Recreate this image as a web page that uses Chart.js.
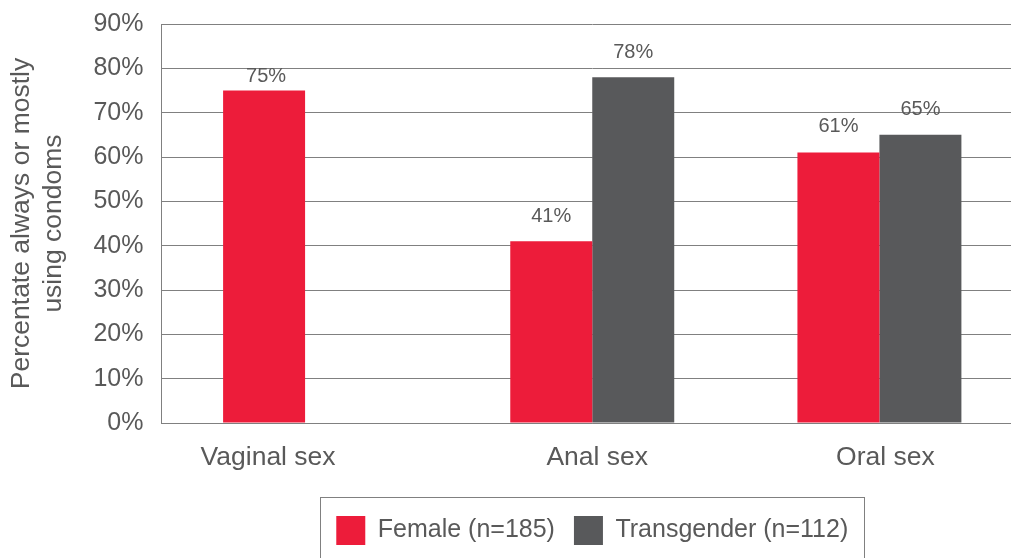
<!DOCTYPE html>
<html><head><meta charset="utf-8">
<script src="https://cdn.jsdelivr.net/npm/chart.js@4/dist/chart.umd.min.js"></script>
<style>
html,body{margin:0;padding:0;overflow:hidden;background:#fff;width:1011px;height:558px}
#wrap{position:absolute;left:0;top:0;width:1023px;height:558px}
</style></head><body>
<div id="wrap"><canvas id="c" width="1023" height="558"></canvas></div>
<script>
// ---- data ----
const categories = ['Vaginal sex', 'Anal sex', 'Oral sex'];
const femaleValues = [75, 41, 61];
const transValues = [null, 78, 65];
const seriesLabels = ['Female (n=185)', 'Transgender (n=112)'];
const yTickValues = [0, 10, 20, 30, 40, 50, 60, 70, 80, 90];
const yTitle = ['Percentate always or mostly', 'using condoms'];

// ---- style ----
const TEXT = '#595959';
const GRID = '#808080';
const FONT = '"Liberation Sans", Arial, sans-serif';
const labelShift = [-37, 5, 6];
const valueLift = [[14, 25, 26], [25, 25, 25]];

const valueLabels = {
  id: 'valueLabels',
  afterDatasetsDraw(chart) {
    const ctx = chart.ctx;
    ctx.save();
    ctx.font = '20px ' + FONT;
    ctx.fillStyle = TEXT;
    ctx.textAlign = 'center';
    ctx.textBaseline = 'middle';
    chart.data.datasets.forEach((ds, di) => {
      const meta = chart.getDatasetMeta(di);
      meta.data.forEach((el, i) => {
        const v = ds.data[i];
        if (v === null || v === undefined) return;
        ctx.fillText(v + '%', el.x + (di === 0 && i === 0 ? 2 : 0), el.y - valueLift[di][i]);
      });
    });
    ctx.restore();
  }
};

const xLabels = {
  id: 'xLabels',
  afterDraw(chart) {
    const ctx = chart.ctx;
    const xs = chart.scales.x;
    ctx.save();
    ctx.font = '26.5px ' + FONT;
    ctx.fillStyle = TEXT;
    ctx.textAlign = 'center';
    ctx.textBaseline = 'middle';
    categories.forEach((c, i) => {
      ctx.fillText(c, xs.getPixelForValue(i) + labelShift[i], chart.chartArea.bottom + 35);
    });
    ctx.restore();
  }
};

const legendBox = {
  id: 'legendBox',
  afterDraw(chart) {
    const lg = chart.legend;
    const hb = lg.legendHitBoxes;
    if (!hb || !hb.length) return;
    const l = hb[0].left, r = hb[hb.length - 1].left + hb[hb.length - 1].width;
    const cx = (chart.chartArea.left + chart.chartArea.right) / 2;
    const half = (r - l) / 2 + 16;
    const ctx = chart.ctx;
    ctx.save();
    ctx.strokeStyle = GRID;
    ctx.lineWidth = 1;
    ctx.strokeRect(Math.round(cx - half) + 0.5, Math.round(lg.top) + 0.5, Math.round(half * 2), 200);
    ctx.restore();
  }
};

new Chart(document.getElementById('c'), {
  type: 'bar',
  data: {
    labels: categories,
    datasets: [
      { label: seriesLabels[0], data: femaleValues, backgroundColor: '#ED1C3A', borderWidth: 0 },
      { label: seriesLabels[1], data: transValues, backgroundColor: '#58595B', borderWidth: 0 }
    ]
  },
  options: {
    responsive: false,
    animation: false,
    events: [],
    layout: { padding: { top: 24, bottom: 3, left: 0, right: 0 } },
    datasets: { bar: { categoryPercentage: 0.571, barPercentage: 1 } },
    scales: {
      x: {
        grid: { display: false },
        border: { display: true, color: GRID, width: 1 },
        ticks: { color: 'rgba(0,0,0,0)', font: { size: 26.5, family: FONT }, padding: 18 },
        afterFit(scale) { scale.height = 74; scale.paddingLeft = 0; scale.paddingRight = 0; }
      },
      y: {
        min: 0, max: 90,
        afterBuildTicks(scale) { scale.ticks = yTickValues.map(v => ({ value: v })); },
        grid: { color: GRID, lineWidth: 1, drawTicks: false },
        border: { display: true, color: GRID, width: 1 },
        ticks: { color: TEXT, font: { size: 25, family: FONT }, padding: 18, callback: v => v + '%' },
        title: { display: true, text: yTitle, color: TEXT, font: { size: 26.5, family: FONT, lineHeight: 1.18 }, padding: { top: 6.4, bottom: 0 } },
        afterFit(scale) { scale.width = 161.5; scale.paddingTop = 0; scale.paddingBottom = 0; }
      }
    },
    plugins: {
      legend: {
        position: 'bottom',
        fullSize: false,
        labels: { boxWidth: 29, boxHeight: 29, padding: 19, color: TEXT, font: { size: 25, family: FONT } }
      },
      tooltip: { enabled: false }
    }
  },
  plugins: [valueLabels, xLabels, legendBox]
});
</script>
</body></html>
